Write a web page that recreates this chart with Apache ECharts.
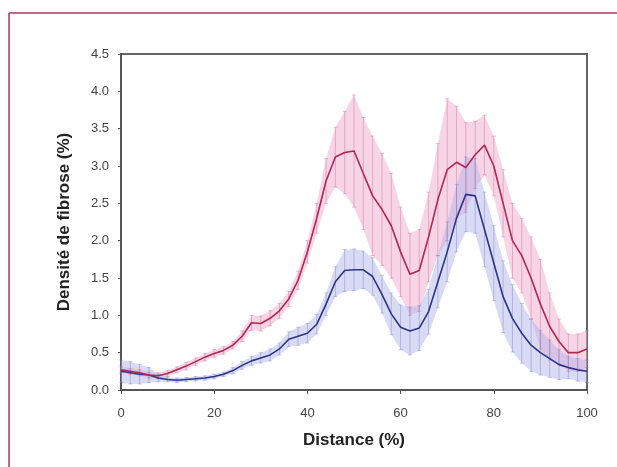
<!DOCTYPE html>
<html>
<head>
<meta charset="utf-8">
<script src="https://cdn.jsdelivr.net/npm/echarts@6/dist/echarts.min.js"></script>
<style>
html,body{margin:0;padding:0;background:#fff;}
#chart{width:617px;height:467px;}
</style>
</head>
<body>
<div id="chart"></div>
<script>
// Distance (%) positions
var distance = [0,2,4,6,8,10,12,14,16,18,20,22,24,26,28,30,32,34,36,38,40,42,44,46,48,50,52,54,56,58,60,62,64,66,68,70,72,74,76,78,80,82,84,86,88,90,92,94,96,98,100];
// Red series: mean and half-width of error bars
var redMean = [0.27,0.25,0.23,0.2,0.19,0.22,0.27,0.32,0.38,0.44,0.49,0.53,0.6,0.72,0.9,0.89,0.96,1.06,1.22,1.47,1.85,2.3,2.8,3.12,3.18,3.2,2.9,2.6,2.42,2.2,1.85,1.55,1.6,2.05,2.55,2.95,3.05,2.98,3.15,3.28,3.0,2.5,2.0,1.8,1.5,1.15,0.85,0.65,0.5,0.5,0.55];
var redErr = [0.04,0.04,0.04,0.04,0.04,0.04,0.04,0.05,0.05,0.05,0.05,0.05,0.05,0.07,0.1,0.1,0.1,0.1,0.1,0.12,0.15,0.2,0.3,0.4,0.55,0.75,0.75,0.8,0.75,0.7,0.6,0.55,0.55,0.6,0.75,0.95,0.75,0.6,0.45,0.4,0.4,0.45,0.5,0.5,0.55,0.6,0.45,0.3,0.25,0.25,0.25];
// Blue series: mean and half-width of error bars
var blueMean = [0.25,0.23,0.21,0.2,0.16,0.14,0.13,0.14,0.15,0.16,0.18,0.21,0.26,0.33,0.39,0.43,0.47,0.55,0.68,0.72,0.76,0.88,1.15,1.45,1.6,1.61,1.61,1.52,1.28,1.02,0.84,0.79,0.83,1.05,1.45,1.85,2.3,2.62,2.6,2.15,1.7,1.25,0.96,0.76,0.6,0.5,0.42,0.34,0.3,0.27,0.25];
var blueErr = [0.15,0.15,0.13,0.1,0.05,0.03,0.03,0.03,0.03,0.03,0.03,0.03,0.04,0.05,0.06,0.07,0.08,0.08,0.1,0.12,0.13,0.13,0.15,0.2,0.28,0.28,0.25,0.25,0.25,0.28,0.3,0.32,0.3,0.3,0.35,0.4,0.45,0.5,0.5,0.5,0.5,0.48,0.45,0.4,0.35,0.3,0.25,0.2,0.15,0.15,0.15];
var xTicks = [0,20,40,60,80,100];
var yTicks = [0,0.5,1,1.5,2,2.5,3,3.5,4,4.5];

function pairs(m){return distance.map(function(x,i){return [x,m[i]];});}
function bars(m,e){return distance.map(function(x,i){return [x,Math.max(0,m[i]-e[i]),m[i]+e[i]];});}

function bandRender(m, e, fill){
  return function(params, api){
    if (params.dataIndex !== 0) return null;
    var pts = [];
    for (var i = 0; i < distance.length; i++) pts.push(api.coord([distance[i], m[i]+e[i]]));
    for (var j = distance.length-1; j >= 0; j--) pts.push(api.coord([distance[j], Math.max(0,m[j]-e[j])]));
    return {type:'polygon', shape:{points:pts}, style:{fill:fill}};
  };
}

function errRender(color){
  return function(params, api){
    var x = api.value(0);
    var lo = api.coord([x, api.value(1)]);
    var hi = api.coord([x, api.value(2)]);
    var c = 2;
    var st = {stroke: color, lineWidth: 1};
    return {type:'group', children:[
      {type:'line', shape:{x1:lo[0],y1:lo[1],x2:hi[0],y2:hi[1]}, style:st},
      {type:'line', shape:{x1:lo[0]-c,y1:lo[1],x2:lo[0]+c,y2:lo[1]}, style:st},
      {type:'line', shape:{x1:hi[0]-c,y1:hi[1],x2:hi[0]+c,y2:hi[1]}, style:st}
    ]};
  };
}

var chart = echarts.init(document.getElementById('chart'), null, {renderer:'canvas'});
var fontFam = '"Liberation Sans", Arial, sans-serif';
chart.setOption({
  animation:false,
  backgroundColor:'#fff',
  graphic:[
    {type:'line', shape:{x1:9,y1:13,x2:617,y2:13}, style:{stroke:'#b3365a', lineWidth:1.5}},
    {type:'line', shape:{x1:9,y1:13,x2:9,y2:467}, style:{stroke:'#b3365a', lineWidth:1.5}}
  ],
  grid:{left:121, top:54, right:30, bottom:77, show:true, borderColor:'#666', borderWidth:2, backgroundColor:'#fff'},
  xAxis:{
    type:'value', min:0, max:100, interval:20,
    name:'Distance (%)', nameLocation:'middle', nameGap:42,
    nameTextStyle:{fontFamily:fontFam, fontWeight:'bold', fontSize:17, color:'#222'},
    axisLine:{show:true, lineStyle:{color:'#555', width:2}},
    axisTick:{show:true, length:4, lineStyle:{color:'#555'}},
    axisLabel:{fontFamily:fontFam, fontSize:13, color:'#444', margin:17,
      formatter:function(v){return xTicks.indexOf(v)>=0 ? String(v) : '';}},
    splitLine:{show:false}
  },
  yAxis:{
    type:'value', min:0, max:4.5, interval:0.5,
    name:'Densité de fibrose (%)', nameLocation:'middle', nameGap:48,
    nameTextStyle:{fontFamily:fontFam, fontWeight:'bold', fontSize:17, color:'#222'},
    axisLine:{show:true, lineStyle:{color:'#555', width:2}},
    axisTick:{show:true, length:3, lineStyle:{color:'#555'}},
    axisLabel:{fontFamily:fontFam, fontSize:13, color:'#444', margin:12,
      formatter:function(v){return yTicks.indexOf(v)>=0 ? v.toFixed(1) : '';}},
    splitLine:{show:false}
  },
  series:[
    {type:'custom', data:bars(redMean,redErr), renderItem:bandRender(redMean,redErr,'rgba(242,172,205,0.5)'), silent:true},
    {type:'custom', data:bars(blueMean,blueErr), renderItem:bandRender(blueMean,blueErr,'rgba(170,176,232,0.45)'), silent:true},
    {type:'custom', data:bars(redMean,redErr), renderItem:errRender('rgba(205,110,155,0.45)'), silent:true},
    {type:'custom', data:bars(blueMean,blueErr), renderItem:errRender('rgba(115,120,200,0.4)'), silent:true},
    {type:'line', data:pairs(blueMean), symbol:'none', lineStyle:{color:'#2b3588', width:1.6}},
    {type:'line', data:pairs(redMean), symbol:'none', lineStyle:{color:'#b3264f', width:1.6}}
  ]
});
</script>
</body>
</html>
